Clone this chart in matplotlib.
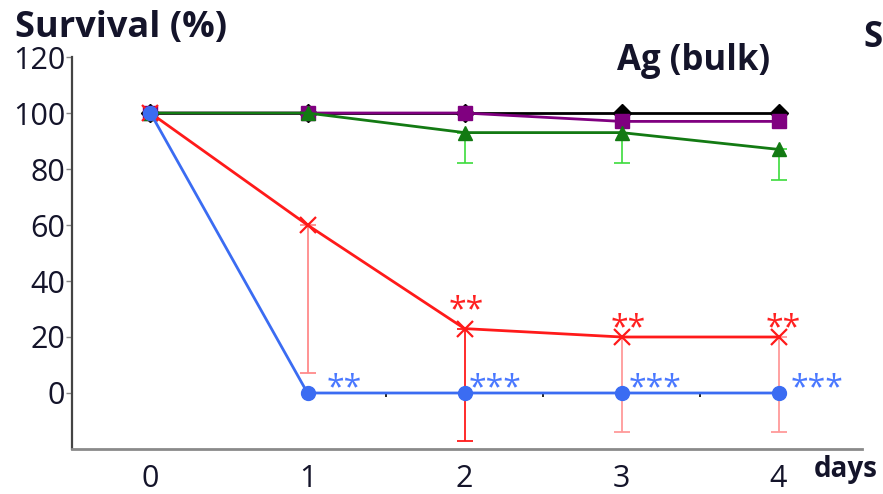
import matplotlib
matplotlib.use("Agg")
import matplotlib.pyplot as plt

days = [0, 1, 2, 3, 4]
control = [100, 100, 100, 100, 100]
purple_vals = [100, 100, 100, 97, 97]
green_vals = [100, 100, 93, 93, 87]
green_err = [0, 0, 11, 11, 11]
red_vals = [100, 60, 23, 20, 20]
red_err = [0, 53, 40, 34, 34]
blue_vals = [100, 0, 0, 0, 0]
red_sig = ["", "", "**", "**", "**"]
blue_sig = ["", "**", "***", "***", "***"]
yticks = [0, 20, 40, 60, 80, 100, 120]
xticks = [0, 1, 2, 3, 4]
mid_ticks = [1.5, 2.5, 3.5]

plt.rcParams['font.family'] = ['Open Sans', 'DejaVu Sans']

fig = plt.figure(figsize=(8.83, 4.94), dpi=100)
ax = fig.add_axes([0.0815, 0.0911, 0.976 - 0.0815, 0.8846 - 0.0911])
ax.set_xlim(-0.5, 4.53)
ax.set_ylim(-20, 120)

for s in ['top', 'right']:
    ax.spines[s].set_visible(False)
ax.spines['left'].set_color('#444444')
ax.spines['left'].set_linewidth(1.6)
ax.spines['bottom'].set_color('#8a8a8a')
ax.spines['bottom'].set_linewidth(2.0)

ax.set_yticks(yticks)
ax.set_xticks(xticks)
ax.tick_params(axis='y', direction='out', length=4, width=1, color='#888888',
               labelsize=22, labelcolor='#14142a', pad=1)
ax.tick_params(axis='x', length=0, labelsize=22, labelcolor='#14142a', pad=11)

# small ticks along the zero line
ax.vlines(mid_ticks, -1.6, 0, colors='black', linewidth=1.2, zorder=2)

lw = 2.0
ax.plot(days, control, color='black', marker='D', markersize=9, linewidth=lw, zorder=3)
ax.plot(days, purple_vals, color='#800080', marker='s', markersize=10, linewidth=lw, zorder=4)
ax.errorbar(days[2:], green_vals[2:], yerr=[green_err[2:], [0] * 3], fmt='none',
            ecolor='#3cdc3c', elinewidth=1.2, capsize=6, capthick=1.2, zorder=4)
ax.plot(days, green_vals, color='#137a13', marker='^', markersize=10, linewidth=lw, zorder=5)

red_ecolors = ['#ff8a8a', '#ff8a8a', '#ff1a1a', '#ff9a9a', '#ff9a9a']
for i in range(1, len(days)):
    ax.errorbar([days[i]], [red_vals[i]], yerr=[[red_err[i]], [0]], fmt='none',
                ecolor=red_ecolors[i], elinewidth=1.3, capsize=6, capthick=1.3, zorder=5)
ax.plot(days, red_vals, color='#ff1a1a', marker='x', markersize=11, markeredgewidth=1.6,
        linewidth=lw, zorder=6)
ax.plot(days, blue_vals, color='#3b6cf2', marker='o', markersize=10, linewidth=lw, zorder=7)

# significance stars
red_off = [(0, 0), (0, 0), (1.5, 7), (5, -0.5), (3.6, -0.5)]
for d, v, s, o in zip(days, red_vals, red_sig, red_off):
    if s:
        ax.annotate(s, (d, v), xytext=o, textcoords='offset points', ha='center',
                    va='baseline', fontsize=23, color='#ff2020', zorder=8)
blue_off = [(0, 0), (14, -3), (3, -3), (5, -3), (8.6, -3)]
for d, v, s, o in zip(days, blue_vals, blue_sig, blue_off):
    if s:
        ax.annotate(s, (d, v), xytext=o, textcoords='offset points', ha='left',
                    va='baseline', fontsize=23, color='#4a78ff', zorder=8)

fig.text(0.017, 0.925, 'Survival (%)', fontsize=26, fontweight='bold', color='#14142a',
         ha='left', va='baseline')
fig.text(0.785, 0.858, 'Ag (bulk)', fontsize=25, fontweight='bold', color='#14142a',
         ha='center', va='baseline')
fig.text(0.978, 0.905, 'S', fontsize=25, fontweight='bold', color='#14142a',
         ha='left', va='baseline')
fig.text(0.958, 0.050, 'days', fontsize=20, fontweight='bold', color='#14142a',
         ha='center', va='center')

fig.savefig('out.png', dpi=100)
